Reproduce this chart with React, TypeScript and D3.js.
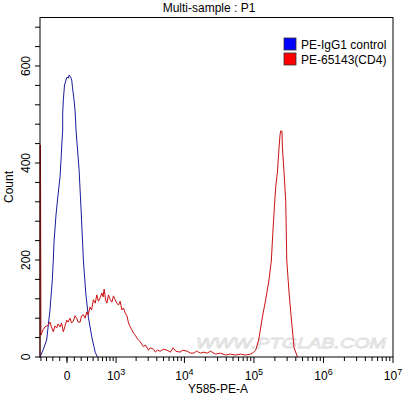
import React from "react";
import * as d3 from "d3";

// Fluorescence values (Y585-PE-A) and counts
const blueX = [-418, -362, -298, -244, -208, -193, -183, -153, -124, -96, -82, -68, -59, -59, -50, -34, -14, 0, 20, 27, 41, 55, 64, 75, 96, 110, 124, 168, 198, 233, 271, 315, 376, 440, 486];
const blueCount = [0, 14, 35, 97, 159, 200, 235, 293, 334, 371, 406, 447, 468, 503, 530, 561, 571, 577, 575, 581, 579, 575, 571, 555, 530, 509, 468, 386, 303, 200, 132, 82, 41, 10, 0];

const redX = [-418, -418, -409, -400, -362, -327, -271, -244, -221, -193, -168, -143, -124, -96, -75, -50, -27, -4, 14, 41, 61, 86, 110, 134, 153, 183, 205, 233, 260, 288, 310, 345, 372, 405, 440, 473, 507, 546, 584, 616, 641, 680, 712, 756, 808, 859, 910, 967, 1029, 1089, 1156, 1228, 1298, 1377, 1461, 1545, 1636, 1735, 1833, 1941, 2057, 2171, 2306, 2570, 2722, 3039, 3220, 3592, 3804, 4067, 4495, 4966, 5625, 6270, 6868, 7513, 8579, 9479, 10940, 12210, 13620, 14900, 17020, 18800, 21270, 23730, 28020, 33070, 39050, 46110, 54440, 64290, 75900, 89620, 99000, 105800, 116900, 132200, 147500, 164700, 178300, 186200, 198900, 205600, 217600, 229500, 237200, 242800, 252700, 256900, 270900, 286700, 296500, 320000, 346500, 377700, 422900];
const redCount = [0, 437, 437, 45, 56, 62, 66, 72, 62, 52, 64, 60, 68, 62, 70, 52, 64, 76, 72, 80, 70, 74, 85, 80, 72, 72, 85, 87, 80, 93, 87, 103, 97, 118, 111, 128, 115, 122, 132, 124, 140, 117, 111, 128, 118, 113, 126, 118, 111, 107, 115, 97, 101, 91, 85, 70, 62, 56, 49, 45, 39, 35, 31, 21, 25, 14, 19, 16, 10, 14, 12, 16, 14, 10, 19, 12, 10, 14, 12, 8, 8, 12, 8, 10, 8, 12, 6, 8, 4, 6, 4, 6, 4, 6, 10, 14, 35, 82, 118, 159, 200, 252, 320, 351, 381, 431, 458, 466, 466, 431, 381, 320, 200, 132, 76, 19, 0];

const yTickValues = [0, 200, 400, 600];
const legendLabels = ["PE-IgG1 control", "PE-65143(CD4)"];
const legendColors = ["#0000ff", "#ff0000"];
const lineColors = ["#1a1a9a", "#cc1111"];
const decadeExps = [3, 4, 5, 6, 7];

const W = 409;
const H = 396;
const L = 40, R = 393, T = 17.5, B = 357;
const COF = 410;
const FONT = "'Liberation Sans', Arial, sans-serif";

export default function App() {
  const tx = d3.scaleLinear()
    .domain([Math.asinh(-418 / COF), Math.asinh(1e7 / COF)])
    .range([L, R]);
  const X = (v: number) => tx(Math.asinh(v / COF));
  const Y = d3.scaleLinear().domain([0, 700]).range([B, T]);

  const line = d3.line<[number, number]>().x(d => X(d[0])).y(d => Y(d[1]));
  const blue = line(blueX.map((v, i) => [v, blueCount[i]] as [number, number]))!;
  const red = line(redX.map((v, i) => [v, redCount[i]] as [number, number]))!;

  // x ticks
  const minor: number[] = [];
  for (let v = -400; v < 1000; v += 100) minor.push(v);
  for (let e = 3; e < 7; e++) for (let m = 2; m <= 9; m++) minor.push(m * Math.pow(10, e));
  const major = [0, ...decadeExps.map(e => Math.pow(10, e))];
  const yTicks = d3.range(0, 700, 40);

  return (
    <svg width={W} height={H} style={{ position: "absolute", left: 0, top: 0, background: "#fff" }} fontFamily={FONT}>
      <rect x={0} y={0} width={W} height={H} fill="#fff" />
      <text x={209} y={12} textAnchor="middle" fontSize={12} fill="#000">Multi-sample : P1</text>

      {/* watermark */}
      <text x={196} y={348} fontSize={15} fill="none" stroke="#dcdcdc" strokeWidth={0.8} textLength={190} lengthAdjust="spacingAndGlyphs" fontStyle="italic">WWW.PTGLAB.COM</text>

      {/* data */}
      <path d={blue} fill="none" stroke={lineColors[0]} strokeWidth={1} />
      <path d={red} fill="none" stroke={lineColors[1]} strokeWidth={1} />

      {/* frame */}
      <rect x={L} y={T} width={R - L} height={B - T} fill="none" stroke="#000" strokeWidth={1} />

      {/* y ticks */}
      {yTicks.map(v => (
        <line key={"yt" + v} x1={L - 5} x2={L} y1={Y(v)} y2={Y(v)} stroke="#000" />
      ))}
      {yTickValues.map(v => (
        <text key={"yl" + v} transform={`translate(30,${Y(v)}) rotate(-90)`} textAnchor="middle" fontSize={12}>{v}</text>
      ))}
      <text transform={`translate(13,187) rotate(-90)`} textAnchor="middle" fontSize={12}>Count</text>

      {/* x ticks */}
      {minor.map(v => (
        <line key={"xm" + v} x1={X(v)} x2={X(v)} y1={B} y2={B + 4} stroke="#000" />
      ))}
      {major.map(v => (
        <line key={"xM" + v} x1={X(v)} x2={X(v)} y1={B} y2={B + 6} stroke="#000" />
      ))}
      <text x={X(0)} y={380} textAnchor="middle" fontSize={12}>0</text>
      {decadeExps.map(e => (
        <text key={"xl" + e} x={X(Math.pow(10, e))} y={380} textAnchor="middle" fontSize={12}>
          10<tspan dy={-5} fontSize={9}>{e}</tspan>
        </text>
      ))}
      <text x={218} y={393} textAnchor="middle" fontSize={12}>Y585-PE-A</text>

      {/* legend */}
      {legendLabels.map((lab, i) => (
        <g key={lab} transform={`translate(284,${38 + i * 15})`}>
          <rect x={0} y={0} width={12} height={12} fill={legendColors[i]} stroke="#333" strokeWidth={0.8} />
          <text x={17} y={11} fontSize={12}>{lab}</text>
        </g>
      ))}
    </svg>
  );
}
